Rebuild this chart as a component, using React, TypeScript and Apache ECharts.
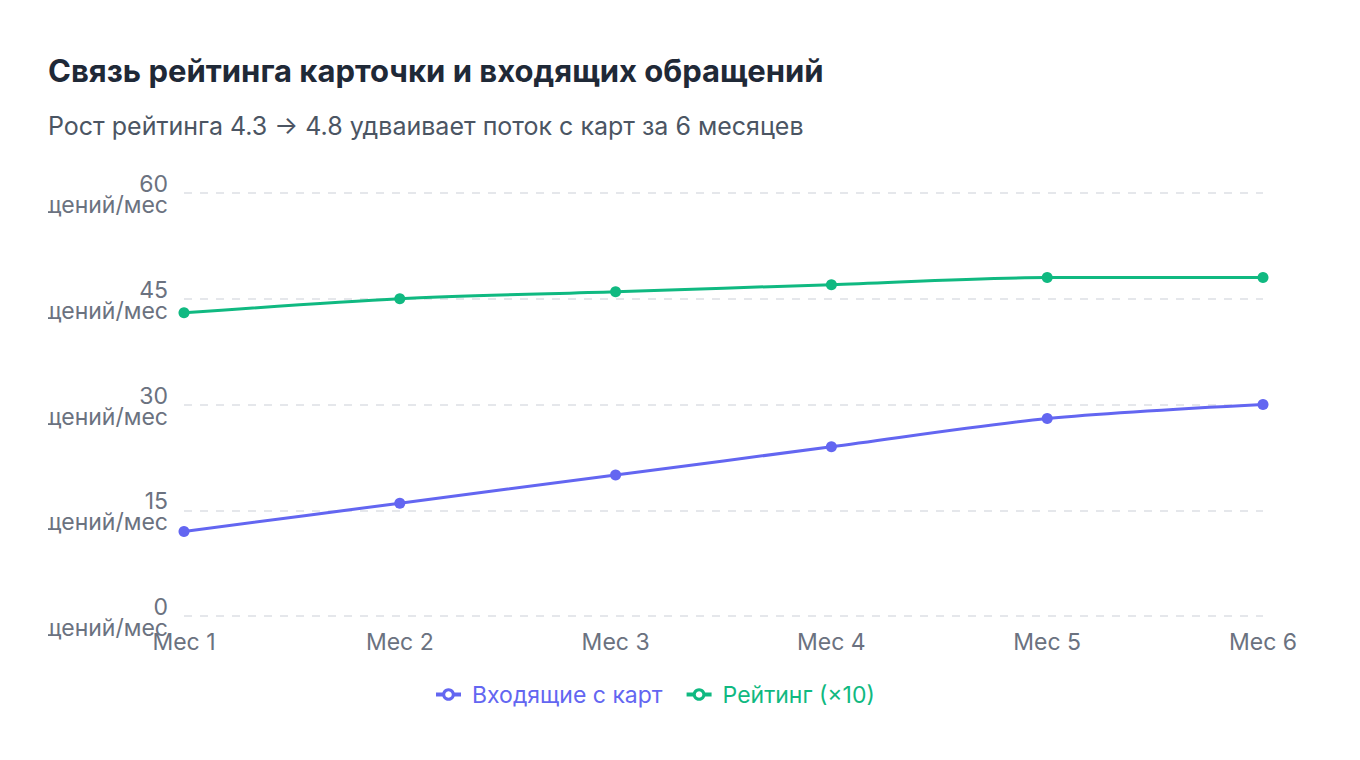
import React, { useEffect, useRef } from "react";
import * as echarts from "echarts";

const months = ["Мес 1", "Мес 2", "Мес 3", "Мес 4", "Мес 5", "Мес 6"];
const inbound = [12, 16, 20, 24, 28, 30];
const ratingX10 = [43, 45, 46, 47, 48, 48];
const yTicks = { min: 0, max: 60, interval: 15 };
const titleText = "Связь рейтинга карточки и входящих обращений";
const subtitleText = "Рост рейтинга 4.3 → 4.8 удваивает поток с карт за 6 месяцев";
const seriesNames = ["Входящие с карт", "Рейтинг (×10)"];
const seriesColors = ["#6366f1", "#10b981"];
const unit = "обращений/мес";

export default function App() {
  const ref = useRef<HTMLDivElement>(null);
  useEffect(() => {
    if (!ref.current) return;
    const chart = echarts.init(ref.current, null, { renderer: "svg" });
    const font = "Inter, 'Noto Sans', sans-serif";
    chart.setOption({
      animation: false,
      textStyle: { fontFamily: font },
      title: {
        text: titleText,
        subtext: subtitleText,
        left: 0,
        top: 15,
        itemGap: 27,
        textStyle: { fontSize: 31, fontWeight: 700, color: "#1f2937", fontFamily: font },
        subtextStyle: { fontSize: 25, color: "#4b5563", fontFamily: font },
        padding: 0,
      },
      legend: {
        left: 381,
        top: 638,
        itemWidth: 25,
        itemHeight: 12,
        itemGap: 22,
        textStyle: { fontSize: 23, fontFamily: font, padding: [0, 0, 0, 6] },
        data: seriesNames.map((n, i) => ({
          name: n,
          itemStyle: { color: "#ffffff", borderColor: seriesColors[i], borderWidth: 3 },
          lineStyle: { width: 4 },
          textStyle: { color: seriesColors[i] },
        })),
      },
      grid: { left: 136, right: 49, top: 153, bottom: 124, outerBoundsMode: "none", containLabel: false },
      xAxis: {
        type: "category",
        data: months,
        boundaryGap: false,
        axisLine: { show: false },
        axisTick: { show: false },
        axisLabel: { fontSize: 23, color: "#6b7280", margin: 14 },
      },
      yAxis: {
        type: "value",
        min: yTicks.min,
        max: yTicks.max,
        interval: yTicks.interval,
        axisLine: { show: false },
        axisTick: { show: false },
        axisLabel: {
          fontSize: 23,
          color: "#6b7280",
          margin: 16,
          lineHeight: 24,
          formatter: (v: number) => `{n|${v}}\n{u|${unit}}`,
          rich: {
            n: { fontSize: 23, color: "#6b7280", lineHeight: 24, padding: [6, 0, 0, 0], fontFamily: font },
            u: { fontSize: 23, color: "#6b7280", lineHeight: 24, fontFamily: font },
          },
        },
        splitLine: { lineStyle: { color: "#e5e7eb", type: [8, 8], width: 2 } },
      },
      series: [
        {
          name: seriesNames[0],
          type: "line",
          data: inbound,
          smooth: 0.3,
          symbol: "circle",
          symbolSize: 11,
          color: seriesColors[0],
          lineStyle: { width: 3 },
        },
        {
          name: seriesNames[1],
          type: "line",
          data: ratingX10,
          smooth: 0.3,
          symbol: "circle",
          symbolSize: 11,
          color: seriesColors[1],
          lineStyle: { width: 3 },
        },
      ],
    });
    return () => chart.dispose();
  }, []);
  return (
    <div style={{ padding: "32px 40px 0 40px" }}>
      <div ref={ref} style={{ width: 1264, height: 700 }} />
    </div>
  );
}
